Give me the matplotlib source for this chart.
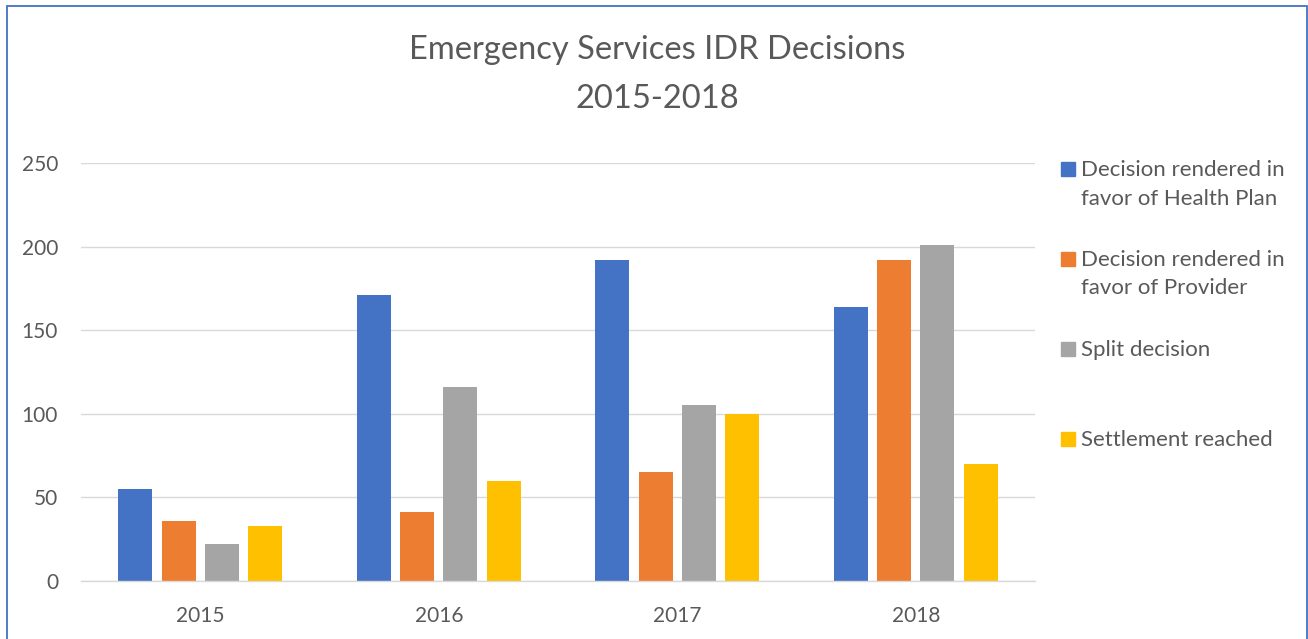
import matplotlib
matplotlib.use('Agg')
import matplotlib.pyplot as plt
import numpy as np
from matplotlib.patches import Rectangle

years = ['2015', '2016', '2017', '2018']
series = ['Decision rendered in\nfavor of Health Plan',
          'Decision rendered in\nfavor of Provider',
          'Split decision',
          'Settlement reached']
health_plan = [55, 171, 192, 164]
provider = [36, 41, 65, 192]
split = [22, 116, 105, 201]
settlement = [33, 60, 100, 70]
values = [health_plan, provider, split, settlement]
colors = ['#4472C4', '#ED7D31', '#A5A5A5', '#FFC000']

W, H = 1308, 639
text_color = '#595959'
plt.rcParams['font.family'] = ['Lato', 'DejaVu Sans']

fig = plt.figure(figsize=(W / 100, H / 100), dpi=100)
ax = fig.add_axes([81 / W, 1 - 580.7 / H, 954 / W, 417.4 / H])

# Bars, four per year
x = np.arange(len(years))
pitch = 0.1817
width = 0.1426
for i, (vals, c) in enumerate(zip(values, colors)):
    ax.bar(x + (i - 1.5) * pitch, vals, width, color=c, zorder=3)

ax.set_xlim(-0.5, 3.5)
ax.set_ylim(0, 250)
ax.set_yticks(range(0, 251, 50))
ax.set_xticks(x)
ax.set_xticklabels(years)
ax.tick_params(length=0, labelsize=15, labelcolor=text_color)
ax.tick_params(axis='y', pad=16.5)
ax.tick_params(axis='x', pad=18)
ax.yaxis.grid(True, color='#D9D9D9', lw=1.0, zorder=0)
for s in ['left', 'right', 'top']:
    ax.spines[s].set_visible(False)
ax.spines['bottom'].set_color('#D9D9D9')
ax.spines['bottom'].set_linewidth(1.0)
ax.spines['bottom'].set_zorder(4)

# Title
fig.text(657 / W, 1 - 59 / H, 'Emergency Services IDR Decisions', ha='center',
         va='baseline', fontsize=23.5, color=text_color)
fig.text(657 / W, 1 - 108 / H, '2015-2018', ha='center',
         va='baseline', fontsize=23.5, color=text_color)

# Legend on the right, square next to the first line of each label
base_y = [176, 265.5, 355.5, 446]
for label, c, by in zip(series, colors, base_y):
    fig.patches.append(Rectangle((1061 / W, 1 - by / H), 14 / W, 14 / H,
                                 transform=fig.transFigure, color=c))
    for k, line in enumerate(label.split('\n')):
        fig.text(1081 / W, 1 - (by + 29 * k) / H, line, ha='left',
                 va='baseline', fontsize=16, color=text_color)

# Chart border
fig.patches.append(Rectangle((7 / W, -0.05), 1299.5 / W, 1.05 - 5.5 / H,
                             transform=fig.transFigure, fill=False,
                             edgecolor='#4472C4', lw=1.3))

fig.savefig('out.png', dpi=100)
